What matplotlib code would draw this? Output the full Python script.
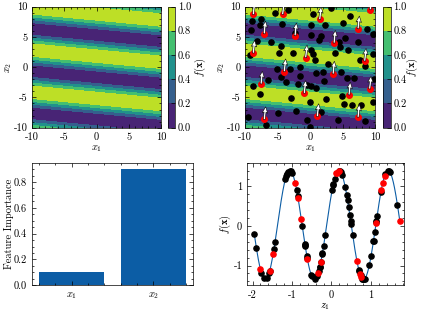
import numpy as np
import matplotlib
matplotlib.use("Agg")
import matplotlib.pyplot as plt

plt.rcParams.update({
    "font.family": "serif",
    "font.serif": ["cmr10"],
    "mathtext.fontset": "cm",
    "axes.formatter.use_mathtext": False,
    "axes.unicode_minus": False,
    "font.size": 7.5,
    "axes.linewidth": 0.5,
    "xtick.direction": "in",
    "ytick.direction": "in",
    "xtick.top": True,
    "ytick.right": True,
    "xtick.minor.visible": True,
    "ytick.minor.visible": True,
    "xtick.major.size": 3,
    "ytick.major.size": 3,
    "xtick.minor.size": 1.5,
    "ytick.minor.size": 1.5,
    "xtick.major.width": 0.5,
    "ytick.major.width": 0.5,
    "xtick.minor.width": 0.5,
    "ytick.minor.width": 0.5,
})

black_x1 = [-5.43, -3.38, 0.37, -9.02, -7.8, -4.4, -6.05, -2.35, 0.06, 0.1,
            -9.3, -4.77, 0.37, -1.58, -5.17, -3.1, -9.12, -2.7,
            3.14, 6.06, 5.03, 2.2, 8.77, 9.65, 1.7, 1.3, 5.38, 7.34,
            4.52, 3.75, 0.16, 5.8, 7.6, 2.72, 9.65, 0.68,
            -4.55, -1.58, -6.46, -8.77, -0.55, -7.74, -3.0, -0.05, -4.92,
            -9.54, -6.8, -0.55, -0.05,
            1.96, 8.46, 5.7, 4.77, 0.16, 0.93, 4.88, 2.46, 6.42, 7.85,
            9.65, 4.26, 1.7, 9.75,
            -7.54, -8.26, 4.4, -4.56, -3.74, -1.85, 2.1, -2.26, 8.36, 5.18,
            6.72, 0.82]
black_x2 = [8.9, 9.34, 8.68, 7.6, 6.9, 7.15, 4.13, 5.67, 5.23, 6.88,
            1.94, 2.32, 2.2, 0.02, -0.25, -0.25, 6.05, 2.32,
            9.79, 8.36, 7.26, 6.88, 6.33, 5.4, 5.07, 4.52, 4.85, 4.13,
            3.3, 2.32, 2.88, 2.76, 1.23, 0.57, 2.2, 1.12,
            -1.68, -1.4, -2.05, -3.16, -2.94, -4.42, -5.13, -5.79, -7.55,
            -8.26, -9.52, -8.8, -9.9,
            -0.74, 0.13, -1.84, -0.86, -3.04, -3.49, -4.69, -5.25, -6.33, -6.33,
            -5.79, -8.8, -7.43, -1.9,
            7.86, 4.3, 4.2, 3.48, -2.38, -2.82, -2.27, -7.2, -8.96, -6.1,
            -1.73, -1.0]
red_x1 = [-8.77, -4.25, 1.45, 9.23, -7.1, -2.35, 3.65, 7.34, -8.77, -0.71,
          8.37, -4.0, 3.5, -7.58, -0.92, 5.95, 9.13, -7.08, 1.08, 7.34]
red_x2 = [8.68, 8.7, 7.86, 9.5, 5.5, 5.18, 3.97, 6.33, 2.32, 1.56,
          1.0, -0.74, -1.13, -2.78, -4.31, -4.59, -3.6, -8.63, -8.14, -8.26]

feature_labels = ["$x_1$", "$x_2$"]
importance = [0.1, 0.9]

# projection z1 = w1*x1 + w2*x2 + c and the 1-d response along it
Z_W1, Z_W2, Z_OFF = 0.0179, 0.1786, -0.132
F_MEAN, F_AMP, F_PEAK, F_PERIOD = 0.025, 1.375, 0.19, 1.245
levels = [0.0, 0.2, 0.4, 0.6, 0.8, 1.0]
ARROW_LEN = 2.1


def proj(x1, x2):
    return Z_W1 * np.asarray(x1) + Z_W2 * np.asarray(x2) + Z_OFF


def response(z):
    return F_MEAN + F_AMP * np.cos(2 * np.pi * (z - F_PEAK) / F_PERIOD)


def response01(z):
    return (response(z) - (F_MEAN - F_AMP)) / (2 * F_AMP)


g = np.linspace(-10, 10, 400)
G1, G2 = np.meshgrid(g, g)
F = response01(proj(G1, G2))

W, H = 422, 313
fig = plt.figure(figsize=(W / 100, H / 100), dpi=100)


def box(l, t, r, b):
    return [l / W, 1 - b / H, (r - l) / W, (b - t) / H]


# top left: the function
ax1 = fig.add_axes(box(32.3, 6.5, 161, 127.7))
cax1 = fig.add_axes(box(168, 6.5, 175, 127.7))
cs = ax1.contourf(G1, G2, F, levels=levels, cmap="viridis")
cb = fig.colorbar(cs, cax=cax1)
cb.set_label(r"$f(\mathbf{x})$", labelpad=1)
ax1.set_xlabel("$x_1$", labelpad=1)
ax1.set_ylabel("$x_2$", labelpad=0)

# top right: function with samples and gradient arrows
ax2 = fig.add_axes(box(245.3, 6.5, 375.3, 127.7))
cax2 = fig.add_axes(box(383, 6.5, 390.5, 127.7))
cs2 = ax2.contourf(G1, G2, F, levels=levels, cmap="viridis")
cb2 = fig.colorbar(cs2, cax=cax2)
ax2.scatter(black_x1, black_x2, s=14, c="k", zorder=3)
ax2.scatter(red_x1, red_x2, s=16, c="red", zorder=4)
norm = np.hypot(Z_W1, Z_W2)
u = np.full(len(red_x1), ARROW_LEN * Z_W1 / norm)
v = np.full(len(red_x1), ARROW_LEN * Z_W2 / norm)
ax2.quiver(red_x1, red_x2, u, v, angles="xy", scale_units="xy", scale=1,
           color="white", edgecolor="k", linewidth=0.4, width=0.015,
           headwidth=2.8, headlength=3.2, headaxislength=2.8, zorder=5)
ax2.set_xlim(-10, 10)
ax2.set_ylim(-10, 10)
ax2.set_xlabel("$x_1$", labelpad=1)
ax2.set_ylabel("$x_2$", labelpad=0)
for cbar in (cb, cb2):
    cbar.ax.tick_params(direction="in", which="both", pad=2)
    cbar.outline.set_linewidth(0.5)
cb2.set_label(r"$f(\mathbf{x})$", labelpad=-1)

# bottom left: feature importance
ax3 = fig.add_axes(box(31.7, 163.3, 193.3, 285.3))
ax3.bar(range(len(importance)), importance, color="#0C5DA5", width=0.8)
ax3.set_xticks(range(len(importance)))
ax3.set_xticklabels(feature_labels)
ax3.set_ylabel("Feature Importance", labelpad=0)

# bottom right: response along z1
ax4 = fig.add_axes(box(247, 162.7, 403.7, 285.3))
zb = proj(black_x1, black_x2)
zr = proj(red_x1, red_x2)
zall = np.concatenate([zb, zr])
zl = np.linspace(zall.min(), zall.max(), 500)
ax4.plot(zl, response(zl), color="#0C5DA5", lw=0.8, zorder=2)
ax4.scatter(zb, response(zb), s=14, c="k", zorder=3)
ax4.scatter(zr, response(zr), s=14, c="red", zorder=4)
ax4.set_xlim(-2.14, 1.83)
ax4.set_ylim(-1.5, 1.6)
ax4.set_xlabel("$z_1$", labelpad=1)
ax4.set_ylabel(r"$f(\mathbf{x})$", labelpad=0)

fig.savefig("out.png", dpi=100)
